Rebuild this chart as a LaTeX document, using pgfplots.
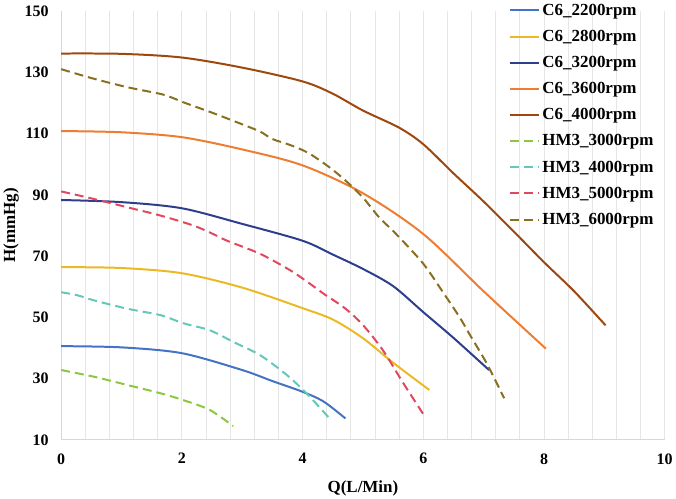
\documentclass[border=0pt]{standalone}
\usepackage{fontspec}
\setmainfont{Liberation Serif}
\usepackage{pgfplots}
\pgfplotsset{compat=1.18}
\definecolor{cA}{RGB}{68,114,196}
\definecolor{cB}{RGB}{236,185,36}
\definecolor{cC}{RGB}{44,62,140}
\definecolor{cD}{RGB}{237,125,49}
\definecolor{cE}{RGB}{158,72,14}
\definecolor{hA}{RGB}{141,198,63}
\definecolor{hB}{RGB}{100,200,185}
\definecolor{hC}{RGB}{224,72,96}
\definecolor{hD}{RGB}{137,112,32}
\definecolor{gridc}{RGB}{230,230,230}
\definecolor{axc}{RGB}{215,215,215}
\begin{document}
\begin{tikzpicture}
\begin{axis}[
  scale only axis,
  width=605pt, height=430pt,
  xmin=0, xmax=10, ymin=10, ymax=150,
  xtick={0,2,4,6,8,10}, ytick={10,30,50,70,90,110,130,150},
  minor x tick num=4,
  xmajorgrids, xminorgrids,
  grid style={gridc, line width=0.8pt},
  minor grid style={gridc, line width=0.8pt},
  axis x line=bottom, axis y line=left,
  axis line style={axc, line width=1pt, -},
  major tick length=0pt, minor tick length=0pt,
  /pgf/number format/assume math mode=true,
  tick label style={font=\fontsize{16}{16}\selectfont\bfseries, black},
  yticklabel style={xshift=-9pt},
  xticklabel style={yshift=-10pt},
  xlabel={Q(L/Min)}, ylabel={H(mmHg)},
  every axis x label/.style={at={(axis description cs:0.5,-0.112)}, anchor=center, font=\fontsize{17}{17}\selectfont\bfseries},
  every axis y label/.style={at={(axis description cs:-0.083,0.5)}, anchor=center, rotate=90, font=\fontsize{17}{17}\selectfont\bfseries},
  legend cell align=left,
  legend style={draw=none, fill=none, font=\fontsize{17}{17}\selectfont\bfseries,
    nodes={inner xsep=2pt},
    at={(axis description cs:1,1.026)}, xshift=-6pt, anchor=north east, row sep=9.4pt},
  legend image code/.code={\draw[#1, line width=2pt] (0pt,0pt) -- (29pt,0pt);},
  every axis plot/.append style={smooth, line width=2pt, no markers},
]
\addplot[cA] coordinates {(0,40.6)(1,40.2)(2,38.3)(3,32.8)(3.5,29.2)(4,25.7)(4.35,22.5)(4.71,17)};
\addlegendentry{C6\_2200rpm}
\addplot[cB] coordinates {(0,66.4)(1,66.1)(2,64.4)(3,59.7)(4,53)(4.5,49.3)(5,43.2)(5.5,35.2)(6.1,26.3)};
\addlegendentry{C6\_2800rpm}
\addplot[cC] coordinates {(0,88.3)(1,87.6)(2,85.6)(3,80.5)(4,75)(4.5,70.5)(5,65.8)(5.5,60.2)(6,51.7)(6.5,43.3)(7.09,32.8)};
\addlegendentry{C6\_3200rpm}
\addplot[cD] coordinates {(0,110.8)(1,110.4)(2,108.8)(3,104.8)(4,99.6)(5,90.5)(6,77.2)(7,58.5)(8.03,39.8)};
\addlegendentry{C6\_3600rpm}
\addplot[cE] coordinates {(0,136.1)(1,136)(2,134.8)(3,131.5)(4,127)(4.5,123)(5,117.5)(5.6,111.9)(6,106.5)(6.5,97)(7,87.8)(7.5,78)(8,68)(8.5,58.5)(9.02,47.4)};
\addlegendentry{C6\_4000rpm}
\addplot[hA, dash pattern=on 9pt off 5pt] coordinates {(0,32.8)(0.55,30.6)(1.1,27.9)(1.65,25.2)(2.02,23)(2.46,19.8)(2.85,14.5)};
\addlegendentry{HM3\_3000rpm}
\addplot[hB, dash pattern=on 9pt off 5pt] coordinates {(0,58.2)(0.27,57.2)(0.55,55.5)(1.1,52.8)(1.65,50.7)(2.02,48.1)(2.46,45.8)(2.85,42)(3.3,37.6)(3.75,31)(4.1,24.5)(4.47,16.5)};
\addlegendentry{HM3\_4000rpm}
\addplot[hC, dash pattern=on 9pt off 5pt] coordinates {(0,91.1)(0.55,88.6)(1.1,85.9)(1.65,83.2)(2.2,79.9)(2.55,76.9)(2.75,75)(3.3,70.7)(3.8,65.3)(4.12,61)(4.35,57.7)(4.7,53)(5,47.5)(5.33,39.3)(5.66,28.8)(6.02,17.8)};
\addlegendentry{HM3\_5000rpm}
\addplot[hD, dash pattern=on 9pt off 5pt] coordinates {(0,131)(0.5,128.1)(1.1,125.1)(1.65,122.9)(1.85,121.6)(2.05,120)(2.5,116.8)(3,113)(3.3,110.6)(3.5,108.2)(3.8,106.2)(4.1,103.6)(4.45,98.9)(4.72,94.5)(5,89.1)(5.27,82.6)(5.55,77.2)(6,67.5)(6.35,57.5)(6.6,50.1)(6.76,44.7)(7.05,35)(7.34,23.6)};
\addlegendentry{HM3\_6000rpm}
\end{axis}
\end{tikzpicture}
\end{document}
